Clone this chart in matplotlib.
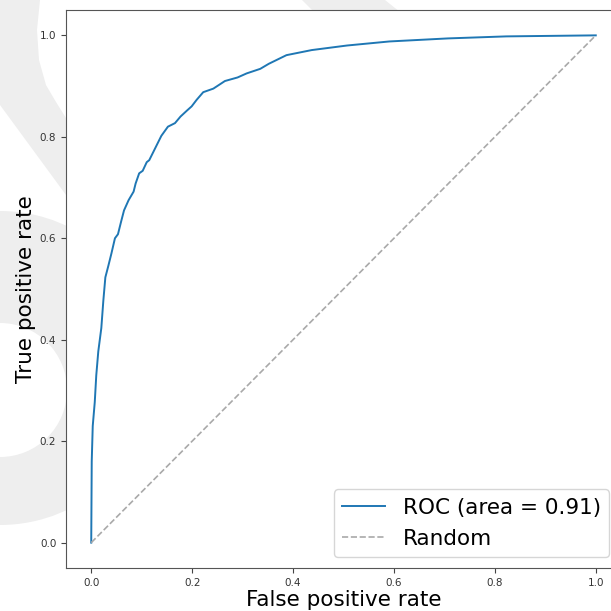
import numpy as np
import matplotlib
matplotlib.use("Agg")
import matplotlib.pyplot as plt
from matplotlib.patches import Polygon, Circle

# ROC curve points
fpr = [0.0, 0.001, 0.003, 0.007, 0.010, 0.014, 0.020, 0.024, 0.028, 0.034,
       0.040, 0.047, 0.053, 0.059, 0.065, 0.074, 0.084, 0.088, 0.095, 0.102,
       0.110, 0.115, 0.125, 0.130, 0.139, 0.152, 0.166, 0.177, 0.190, 0.199,
       0.209, 0.222, 0.242, 0.265, 0.290, 0.308, 0.335, 0.352, 0.387, 0.437,
       0.507, 0.591, 0.707, 0.823, 1.0]
tpr = [0.0, 0.160, 0.230, 0.277, 0.330, 0.377, 0.423, 0.477, 0.523, 0.546,
       0.570, 0.600, 0.608, 0.632, 0.655, 0.675, 0.692, 0.708, 0.728, 0.733,
       0.750, 0.754, 0.774, 0.784, 0.802, 0.820, 0.827, 0.840, 0.852, 0.860,
       0.873, 0.888, 0.895, 0.910, 0.917, 0.925, 0.934, 0.944, 0.961, 0.971,
       0.980, 0.988, 0.994, 0.998, 1.0]
roc_auc = 0.91

W = 611.0
fig = plt.figure(figsize=(6.11, 6.11), dpi=100)

def px(pts):
    # pixel coords (y down) -> figure fraction
    return [(x / W, 1 - y / W) for x, y in pts]

# faint watermark behind the axes
wm = '#eeeeee'
fig.add_artist(Polygon(px([(0, 0), (40, 0), (37, 30), (39, 60), (46, 85), (56, 102),
                           (66, 118), (66, 195), (0, 105)]),
                       closed=True, transform=fig.transFigure, color=wm, zorder=-3, lw=0))
fig.add_artist(Polygon(px([(302, 0), (385, 0), (400, 12), (314, 12)]),
                       closed=True, transform=fig.transFigure, color=wm, zorder=-3, lw=0))
fig.add_artist(Circle((0, 1 - 368 / W), 157 / W, transform=fig.transFigure,
                      color=wm, zorder=-3, lw=0))
fig.add_artist(Circle((0, 1 - 390 / W), 67 / W, transform=fig.transFigure,
                      color='white', zorder=-2, lw=0))

ax = fig.add_axes([66 / W, 1 - 568 / W, (621 - 66) / W, (568 - 10) / W])
ax.plot(fpr, tpr, color='#1f77b4', lw=1.4, label='ROC (area = %0.2f)' % roc_auc)
ax.plot([0, 1], [0, 1], color='darkgray', lw=1.2, linestyle='--', label='Random')

ax.set_xlim(-0.05, 1.05)
ax.set_ylim(-0.05, 1.05)
ax.set_xticks([0, 0.2, 0.4, 0.6, 0.8, 1.0])
ax.set_yticks([0, 0.2, 0.4, 0.6, 0.8, 1.0])
ax.tick_params(labelsize=7.5, labelcolor='#333333', color='#444444')
for s in ax.spines.values():
    s.set_color('#555555')
ax.set_xlabel('False positive rate', fontsize=15.5, labelpad=2)
ax.set_ylabel('True positive rate', fontsize=15.5, labelpad=3)
ax.legend(loc='lower right', fontsize=15.5, bbox_to_anchor=(0.9985, 0.0))

fig.savefig('out.png', dpi=100)
